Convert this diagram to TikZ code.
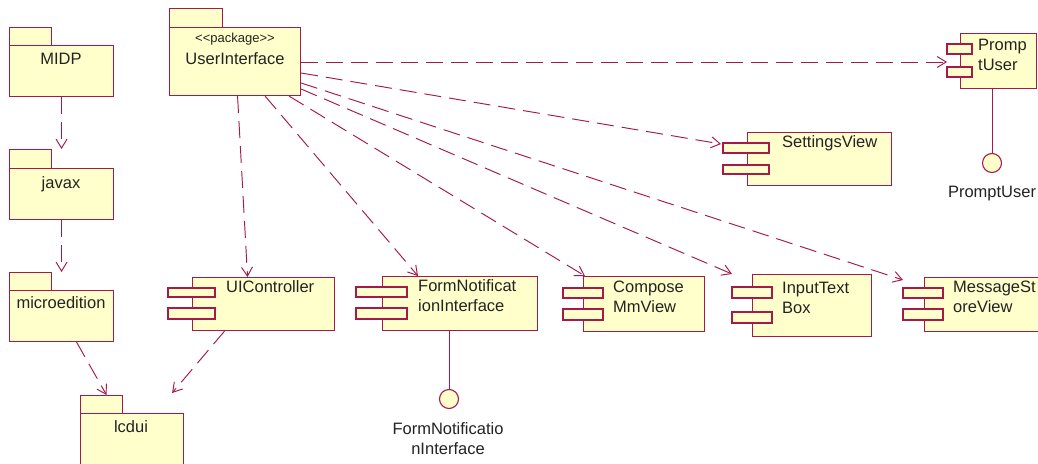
\documentclass[tikz,border=0pt]{standalone}
\usepackage{fontspec}
\setmainfont{Liberation Sans}
\usetikzlibrary{arrows.meta,calc}
\definecolor{edge}{RGB}{165,25,75}
\definecolor{fillc}{RGB}{255,255,204}
\definecolor{txt}{RGB}{35,35,35}
\tikzset{
  box/.style={draw=edge, fill=fillc, line width=1.1pt, rectangle, inner sep=0pt},
  dep/.style={draw=edge, line width=0.95pt, dash pattern=on 17pt off 8pt,
    -{Straight Barb[length=9pt,width=11pt]}},
  lollipop/.style={draw=edge, line width=1pt},
  iface/.style={circle, draw=edge, fill=fillc, line width=1.1pt, minimum size=19pt, inner sep=0pt},
  lbl/.style={text=txt, inner sep=0pt, font=\fontsize{16.5}{20}\selectfont},
  stereo/.style={text=txt, inner sep=0pt, font=\fontsize{13}{15}\selectfont}
}
\newcommand\boxat[5]{\node[box,anchor=north west,minimum width={(#4-#2)*1pt},minimum height={(#5-#3)*1pt}] (#1) at (#2,#3) {};}
\begin{document}
\begin{tikzpicture}[x=1pt,y=-1pt]
\useasboundingbox (0,0) rectangle (1038,463);
\clip (0,0) rectangle (1038,463);
\fill[white] (0,0) rectangle (1038,463);

% packages
\boxat{midptab}{9}{27}{51}{45}
\boxat{midp}{9}{45}{113}{96}
\node[lbl, anchor=base] (midptext) at (61,64) {MIDP};
\boxat{javaxtab}{9}{149}{51}{168}
\boxat{javax}{9}{168}{113}{219}
\node[lbl, anchor=base] (javaxtext) at (61,188) {javax};
\boxat{microtab}{9}{272}{51}{290}
\boxat{micro}{9}{290}{113}{341}
\node[lbl, anchor=base] (microtext) at (61,308) {microedition};
\boxat{lcduitab}{80}{395}{122}{413}
\boxat{lcdui}{80}{413}{183}{480}
\node[lbl, anchor=base] (lcduitext) at (131,432) {lcdui};
\boxat{uitab}{169}{8}{222}{27}
\boxat{ui}{169}{27}{300}{95}
\node[stereo, anchor=base] (uistereo) at (235,42) {<\kern0pt<package>\kern0pt>};
\node[lbl, anchor=base] (uitext) at (235,64) {UserInterface};

% components
\boxat{uic}{192}{277}{334}{330}
\draw[box] (168,288) rectangle (215,297);
\draw[box] (168,308) rectangle (215,319);
\node[lbl, anchor=base west] (uictext) at (226,292) {UIController};

\boxat{formnot}{382}{276}{537}{330}
\draw[box] (356,287) rectangle (407,297);
\draw[box] (356,308) rectangle (407,319);
\node[lbl, anchor=base west, align=left] (formtext) at (418,311) {FormNotificat\\ionInterface};

\boxat{compose}{583}{276}{704}{331}
\draw[box] (563,288) rectangle (603,298);
\draw[box] (563,309) rectangle (603,320);
\node[lbl, anchor=base west, align=left] (composetext) at (613,312) {Compose\\MmView};

\boxat{input}{752}{274}{871}{336}
\draw[box] (732,287) rectangle (772,298);
\draw[box] (732,312) rectangle (772,323);
\node[lbl, anchor=base west, align=left] (inputtext) at (782,313) {InputText\\Box};

\boxat{msg}{924}{277}{1045}{331}
\draw[box] (903,288) rectangle (943,298);
\draw[box] (903,309) rectangle (943,320);
\node[lbl, anchor=base west, align=left] (msgtext) at (953,312) {MessageSt\\oreView};

\boxat{settings}{747}{132}{891}{185}
\draw[box] (723,143) rectangle (769,153);
\draw[box] (723,165) rectangle (769,174);
\node[lbl, anchor=base west] (settingstext) at (782,147) {SettingsView};

\boxat{prompt}{960}{33}{1036}{88}
\draw[box] (947,44) rectangle (972,54);
\draw[box] (947,67) rectangle (972,77);
\node[lbl, anchor=base west, align=left] (prompttext) at (978,70) {Promp\\tUser};

% interfaces
\node[iface] (ficirc) at (449,399) {};
\node[lbl, anchor=base, align=center] (fitext) at (448,454) {FormNotificatio\\nInterface};
\draw[lollipop] (formnot.south -| ficirc) -- (ficirc.north);
\node[iface] (pucirc) at (992,163) {};
\node[lbl, anchor=base] (putext) at (992,197) {PromptUser};
\draw[lollipop] (prompt.south -| pucirc) -- (pucirc.north);

% dependencies
\draw[dep] (midp.south) -- (midp.south |- javaxtab.north);
\draw[dep] (javax.south) -- (javax.south |- microtab.north);
\draw[dep] ($(micro.south)+(15,0)$) -- ($(lcduitab.north)+(5,0)$);
\draw[dep] ($(uic.south)+(-39,0)$) -- ($(lcdui.north east)+(-12,-20)$);
\draw[dep] ($(ui.south)+(2.5,0)$) -- ($(uic.north)+(-16,0)$);
\draw[dep] ($(ui.south east)+(-36,0)$) -- ($(formnot.north west)+(36,0)$);
\draw[dep] ($(ui.south east)+(-12,0)$) -- ($(compose.north west)+(2,0)$);
\draw[dep] ($(ui.north east)+(0,62)$) -- ($(input.north west)+(-20,0)$);
\draw[dep] ($(ui.north east)+(0,56)$) -- ($(msg.north west)+(-21,3)$);
\draw[dep] ($(ui.north east)+(0,46)$) -- ($(settings.north west)+(-26,12)$);
\draw[dep] ($(ui.north east)+(0,35)$) -- ($(prompt.north west)+(-13,29)$);
\end{tikzpicture}
\end{document}
